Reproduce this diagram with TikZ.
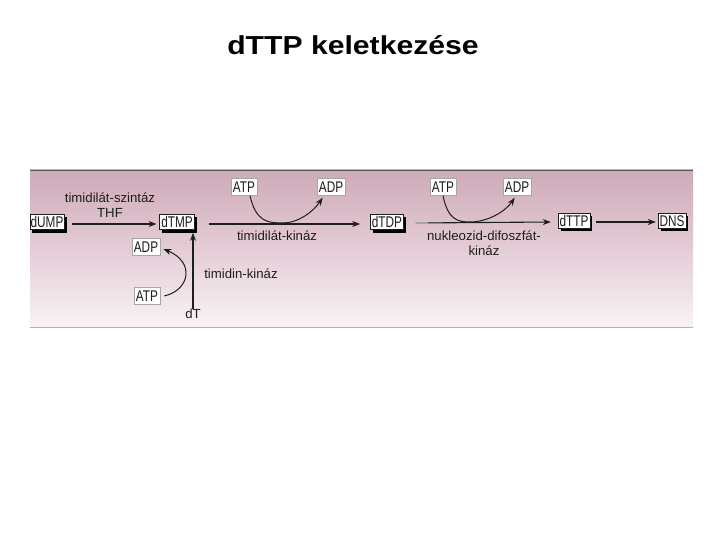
\documentclass[tikz,border=0pt]{standalone}
\usepackage{fontspec}
\setmainfont{Liberation Sans}
\usetikzlibrary{arrows.meta,shadows}
\definecolor{bgtop}{RGB}{206,170,184}
\definecolor{bgmid}{RGB}{228,204,214}
\definecolor{bgbot}{RGB}{248,243,246}
\definecolor{ink}{RGB}{30,30,30}
\newcommand{\bx}[1]{\scalebox{0.76}[1]{#1}}
\tikzset{
  main/.style={draw=ink, line width=0.6pt, fill=white, inner sep=1.5pt, minimum height=15pt,
    font=\fontsize{15.5}{16}\selectfont, text=ink,
    drop shadow={shadow xshift=2.5pt, shadow yshift=-3pt, fill=black, opacity=1}},
  cof/.style={draw=gray!70, line width=0.5pt, fill=white, inner sep=2pt, minimum height=17pt,
    font=\fontsize{15.5}{16}\selectfont, text=ink},
  lab/.style={font=\fontsize{13.2}{14.5}\selectfont, text=ink, inner sep=0pt, align=center},
  arr/.style={draw=ink, line width=1.1pt, -{Stealth[length=8pt,width=6pt]}},
  curv/.style={draw=ink, line width=1pt, -{Stealth[length=8pt,width=6pt]}}
}
\begin{document}
\begin{tikzpicture}[x=1pt,y=-1pt]
\useasboundingbox (0,0) rectangle (720,540);
% panel
\shade[top color=bgtop, bottom color=bgbot, middle color=bgmid] (30,170) rectangle (693,327);
\draw[gray!70!black, line width=0.8pt] (30,170) -- (693,170);
\draw[gray!60, line width=1pt] (30,327) -- (693,327);
% title
\node[font=\fontsize{26}{30}\selectfont\bfseries, inner sep=0pt] (title) at (353,45) {\scalebox{1.16}[1]{dTTP keletkezése}};
% main chain
\node[main, inner xsep=0.8pt] (dump) at (47,222) {\bx{dUMP}};
\node[main] (dtmp) at (177,222) {\bx{dTMP}};
\node[main] (dtdp) at (387,222) {\bx{dTDP}};
\node[main] (dttp) at (574,221) {\bx{dTTP}};
\node[main] (dns) at (672,221) {\bx{DNS}};
% cofactors
\node[cof] (atp1) at (244,187) {\bx{ATP}};
\node[cof] (adp1) at (331,187) {\bx{ADP}};
\node[cof] (atp2) at (443,187) {\bx{ATP}};
\node[cof] (adp2) at (517,187) {\bx{ADP}};
\node[cof] (adpl) at (146,247) {\bx{ADP}};
\node[cof] (atpb) at (147,296) {\bx{ATP}};
% labels
\node[lab] (lszint) at (110,198) {timidilát-szintáz};
\node[lab] (lthf) at (110,213) {THF};
\node[lab] (ltk) at (277,236) {timidilát-kináz};
\node[lab] (lndk) at (484,243) {nukleozid-difoszfát-\\kináz};
\node[lab] (ltdk) at (241,274) {timidin-kináz};
\node[lab] (dt) at (193,314) {dT};
% arrows
\draw[arr] ([xshift=8pt,yshift=-2pt]dump.east) -- ([xshift=-3pt,yshift=-2pt]dtmp.west);
\draw[arr] ([xshift=14pt,yshift=-2pt]dtmp.east) -- ([xshift=-10pt,yshift=-2pt]dtdp.west);
\draw[arr] ([xshift=12pt,yshift=-1pt]dtdp.east) coordinate (g1) -- ([xshift=-7pt,yshift=-1pt]dttp.west);
\draw[gray!70, line width=1.2pt] (g1) -- ++(12,0);
\draw[arr] ([xshift=6pt,yshift=-1pt]dttp.east) -- ([xshift=-2pt,yshift=-1pt]dns.west);
\draw[arr] (dt.north) -- ([yshift=-3pt]dtmp.south -| dt.north);
% curved cofactor arrows
\draw[curv] ([xshift=6pt]atp1.south) .. controls (256,222) and (268,223) .. (283,223)
  .. controls (298,223) and (313,212) .. ([xshift=6pt,yshift=-2pt]adp1.south west);
\draw[curv] (atp2.south) .. controls (448,220) and (458,222) .. (470,222)
  .. controls (487,222) and (505,212) .. ([xshift=12pt,yshift=-2pt]adp2.south west);
\draw[curv] ([xshift=4pt]atpb.east) .. controls (190,290) and (195,262) .. ([xshift=3pt,yshift=-2pt]adpl.east);
\end{tikzpicture}
\end{document}
